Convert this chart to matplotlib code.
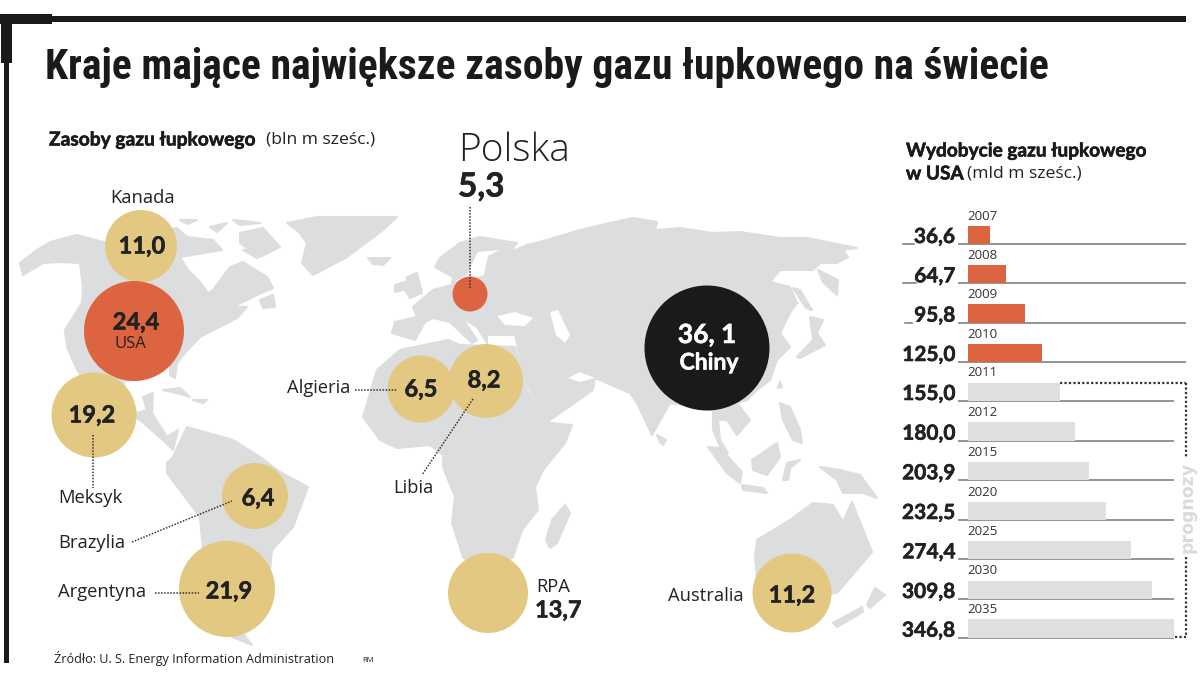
import matplotlib
matplotlib.use("Agg")
import matplotlib.pyplot as plt
import matplotlib.patheffects as pe
from matplotlib import font_manager
from matplotlib.patches import Circle, Polygon, Rectangle

# ================== dane ==================
countries = ["Kanada", "USA", "Meksyk", "Brazylia", "Argentyna", "Algieria", "Libia", "Polska", "Chiny", "RPA", "Australia"]
reserves = [11.0, 24.4, 19.2, 6.4, 21.9, 6.5, 8.2, 5.3, 36.1, 13.7, 11.2]

years = [2007, 2008, 2009, 2010, 2011, 2012, 2015, 2020, 2025, 2030, 2035]
production = [36.6, 64.7, 95.8, 125.0, 155.0, 180.0, 203.9, 232.5, 274.4, 309.8, 346.8]

# ================== uklad (piksele) ==================
circle_x = [141, 134, 94, 255, 227, 421, 486, 470, 707, 488, 792]
circle_y = [246, 331, 415, 496, 589, 389, 381, 294, 348, 593, 593]
circle_r = [36, 50, 42.5, 33, 48, 33.5, 37, 17.5, 62.5, 40, 39.5]
number_x = [142, 136, 92, 258, 229, 421, 484, None, None, None, 792]
number_y = [246, 322, 415, 498, 591, 389, 380, None, None, None, 595]
bar_base = [244, 283.3, 322.7, 362, 401, 440.7, 480.3, 520, 559.3, 599, 637.7]

LAND = "#dcddde"
GOLD = "#e3c882"
RED = "#dd6440"
BLACK = "#1a191c"
TEXT = "#222222"
BOLD = "Lato"
PLAIN = "Open Sans"

circle_color = [GOLD, RED, GOLD, GOLD, GOLD, GOLD, GOLD, RED, BLACK, GOLD, GOLD]

# ================== mapa ==================
land = [
    # Ameryka Polnocna
    [(20, 263), (37, 250), (50, 242), (77, 235), (107, 243), (177, 228), (187, 237), (213, 240), (222, 250),
     (180, 257), (188, 270), (200, 282), (208, 293), (213, 290), (230, 267), (243, 262), (267, 277), (273, 288),
     (257, 295), (233, 307), (247, 307), (237, 318), (200, 337), (185, 353), (177, 363), (175, 378), (170, 375),
     (170, 363), (150, 375), (123, 382), (130, 400), (137, 413), (147, 410), (143, 397), (153, 393), (152, 413),
     (167, 437), (178, 430), (173, 450), (163, 440), (140, 420), (100, 400), (77, 370), (67, 347), (65, 330),
     (82, 303), (83, 287), (80, 263), (60, 262), (43, 263), (23, 275)],
    # wyspy arktyczne
    [(180, 220), (197, 220), (187, 224)], [(233, 220), (260, 223), (240, 225)], [(210, 227), (227, 223), (217, 232)],
    [(240, 233), (263, 228), (280, 247), (260, 257), (240, 243)], [(243, 250), (267, 247), (257, 258)],
    [(260, 300), (273, 295), (275, 307), (263, 308)],
    [(163, 390), (180, 388), (190, 397), (177, 393)], [(193, 400), (207, 400), (203, 403)],
    # Grenlandia, Islandia, Wyspy Brytyjskie
    [(287, 223), (317, 217), (397, 217), (383, 230), (347, 257), (313, 275), (302, 263), (307, 243), (300, 233)],
    [(368, 258), (390, 258), (383, 265), (373, 264)],
    [(407, 277), (417, 273), (422, 293), (410, 298), (405, 290)],
    [(395, 285), (405, 282), (403, 290), (395, 292)],
    # Ameryka Poludniowa
    [(167, 463), (173, 457), (187, 427), (233, 440), (260, 457), (280, 472), (308, 487), (293, 527), (272, 550),
     (268, 590), (250, 620), (240, 630), (252, 645), (232, 637), (215, 600), (203, 550), (200, 517), (167, 473)],
    # Eurazja
    [(392, 333), (395, 322), (417, 317), (413, 307), (433, 290), (452, 285), (453, 277), (435, 267), (440, 258),
     (460, 243), (480, 237), (517, 243), (510, 252), (527, 245), (547, 240), (580, 230), (610, 223), (633, 218),
     (657, 222), (655, 230), (680, 228), (713, 233), (740, 232), (780, 238), (807, 238), (857, 248), (843, 250),
     (848, 257), (837, 263), (820, 263), (813, 270), (780, 270), (770, 282), (790, 287), (797, 303), (790, 313),
     (780, 333), (790, 347), (777, 360), (770, 380), (757, 390), (747, 400), (737, 403), (750, 420), (737, 435),
     (727, 420), (718, 420), (720, 440), (728, 453), (724, 456), (713, 430), (713, 410), (670, 403), (652, 435),
     (637, 403), (630, 393), (595, 378), (593, 390), (550, 420), (530, 390), (523, 380), (517, 343), (515, 335),
     (487, 335), (487, 343), (477, 327), (462, 318), (477, 340), (472, 343), (450, 322), (433, 318), (425, 322),
     (415, 340)],
    # Afryka
    [(363, 417), (377, 370), (400, 350), (448, 340), (460, 345), (515, 347), (523, 383), (527, 390), (550, 423),
     (572, 425), (565, 443), (543, 470), (535, 487), (538, 510), (522, 530), (513, 557), (487, 577), (463, 557),
     (452, 523), (455, 497), (443, 467), (443, 455), (430, 445), (397, 448), (380, 440)],
    [(565, 505), (570, 513), (557, 543), (550, 548), (546, 540), (552, 520)],
    # Azja - wyspy
    [(657, 435), (666, 440), (663, 445), (660, 442)],
    [(780, 382), (782, 387), (778, 388)],
    [(780, 403), (790, 407), (800, 430), (802, 443), (793, 440), (783, 420)],
    [(797, 357), (813, 340), (810, 317), (823, 320), (817, 333), (825, 345), (800, 358)],
    [(818, 270), (838, 280), (837, 295), (823, 282)],
    [(793, 288), (800, 290), (812, 310), (806, 308)],
    # Indonezja, Nowa Gwinea
    [(708, 447), (720, 448), (742, 472), (740, 483), (727, 473)],
    [(752, 460), (777, 443), (780, 457), (767, 475), (753, 470)],
    [(742, 485), (763, 488), (767, 493), (743, 490)],
    [(783, 480), (787, 463), (800, 460), (790, 468), (788, 480)],
    [(820, 467), (840, 470), (860, 475), (877, 498), (863, 493), (843, 493), (837, 480)],
    # Australia, Nowa Zelandia
    [(757, 540), (790, 520), (813, 503), (833, 505), (843, 522), (852, 502), (872, 552), (837, 593), (810, 597),
     (757, 580), (755, 557)],
    [(833, 623), (862, 607), (863, 612), (837, 627)],
    [(867, 605), (875, 588), (885, 595), (870, 608)],
]

# morza wewnetrzne (biale plamy na ladzie)
seas = [
    [(455, 281), (467, 275), (473, 262), (478, 252), (500, 250), (488, 256), (484, 275), (470, 280)],
    [(497, 316), (515, 312), (533, 318), (525, 326), (505, 325)],
    [(550, 312), (558, 310), (570, 335), (565, 343), (556, 335)],
    [(568, 378), (580, 372), (595, 378), (580, 382)],
]

fig = plt.figure(figsize=(12, 6.82), dpi=100)
ax = fig.add_axes([0, 0, 1, 1])
ax.set_xlim(0, 1200)
ax.set_ylim(682, 0)
ax.axis("off")

for shape in land:
    ax.add_patch(Polygon(shape, closed=True, fc=LAND, ec=LAND, lw=1.5, joinstyle="round", zorder=1))
for shape in seas:
    ax.add_patch(Polygon(shape, closed=True, fc="white", ec="none", zorder=1.1))

# ================== ramka ==================
ax.add_patch(Rectangle((0, 16), 1186, 6, fc=BLACK, ec="none", zorder=5))
ax.add_patch(Rectangle((0, 14), 52, 10, fc=BLACK, ec="none", zorder=5))
ax.add_patch(Rectangle((1, 14), 11, 49, fc=BLACK, ec="none", zorder=5))
ax.add_patch(Rectangle((4, 14), 5, 649, fc=BLACK, ec="none", zorder=5))

# ================== kola ==================
for x, y, r, c in zip(circle_x, circle_y, circle_r, circle_color):
    ax.add_patch(Circle((x, y), r, fc=c, ec="none", zorder=2))


def num(v):
    return f"{v:.1f}".replace(".", ",")


def dots(x0, y0, x1, y1, lw=1.1):
    ax.plot([x0, x1], [y0, y1], color="#333333", lw=lw, ls=(0, (1, 1)), zorder=3)


def label(x, y, s, size=13.2, ha="center", color=TEXT, family=PLAIN, weight="normal", va="center", heavy=False, **kw):
    t = ax.text(x, y, s, fontsize=size, ha=ha, va=va, color=color, family=family, weight=weight, zorder=4, **kw)
    if heavy:
        t.set_path_effects([pe.withStroke(linewidth=0.4, foreground=color)])
    return t


NUM = dict(size=17, family=BOLD, weight="bold", heavy=True)

# tytul: waski krój jesli jest, rozmiar dobrany do szerokosci
installed = {f.name for f in font_manager.fontManager.ttflist}
title_family = "Roboto"
for name in ["Roboto Condensed", "Liberation Sans Narrow", "Open Sans Condensed", "Noto Sans Condensed"]:
    if name in installed:
        title_family = name
        break
title = label(45, 67, "Kraje mające największe zasoby gazu łupkowego na świecie", size=28, ha="left",
              color=BLACK, family=title_family, weight="bold")
fig.canvas.draw()
title.set_fontsize(28 * 1002 / title.get_window_extent().width)

label(49, 140, "Zasoby gazu łupkowego", size=13.8, ha="left", family=BOLD, weight="bold", color=BLACK, heavy=True)
label(266, 140, "(bln m sześc.)", size=12.6, ha="left")

# etykiety krajow
for x, y, v in zip(number_x, number_y, reserves):
    if x is not None:
        label(x, y, num(v), **NUM)

label(143, 198, "Kanada")
label(130, 344, "USA", size=12)
label(90, 498, "Meksyk")
label(92, 543, "Brazylia")
label(102, 592, "Argentyna")
label(319, 388, "Algieria")
label(413, 488, "Libia")
label(458, 151, "Polska", size=28, ha="left", weight="light")
label(458, 187, num(reserves[7]), size=24, ha="left", family=BOLD, weight="bold", heavy=True)
label(707, 335, "36, 1", size=19, color="white", family=BOLD, weight="bold", heavy=True)
label(709, 363, "Chiny", size=16.5, color="white", family=BOLD, weight="bold", heavy=True)
label(536, 587, "RPA", ha="left")
label(535, 610, num(reserves[9]), size=17, ha="left", family=BOLD, weight="bold", heavy=True)
label(706, 596, "Australia")

dots(93, 435, 93, 488)
dots(132, 542, 232, 501)
dots(155, 592.5, 199, 592.5)
dots(355, 390, 397, 390)
dots(473, 399, 422, 475)
dots(470, 207, 470, 288)

label(54, 659, "Źródło: U. S. Energy Information Administration", size=9.1, ha="left")
label(362, 660, "RM", size=5.5, ha="left")

# ================== wydobycie ==================
label(906, 151, "Wydobycie gazu łupkowego", size=13.7, ha="left", family=BOLD, weight="bold", color=BLACK, heavy=True)
label(906, 174, "w USA", size=13.7, ha="left", family=BOLD, weight="bold", color=BLACK, heavy=True)
label(967, 174, "(mld m sześc.)", size=12.6, ha="left")

ax_b = fig.add_axes([968 / 1200, 0, 206 / 1200, 1])
ax_b.set_xlim(0, max(production))
ax_b.set_ylim(682, 0)
ax_b.axis("off")
ax_b.patch.set_alpha(0)
colors = [RED if y <= 2010 else "#dedfe0" for y in years]
ax_b.barh([b - 9.25 for b in bar_base], production, height=18.5, color=colors, zorder=2)

for i, (yr, v, b) in enumerate(zip(years, production, bar_base)):
    end = 1186 if yr <= 2010 else 1174
    ax.plot([958, end], [b, b], color="#777777", lw=1.1, zorder=3, solid_capstyle="butt")
    label(967, b - 28, str(yr), size=9.5, ha="left", color="#333333")
    label(955.5, b - 1, num(v), size=15, ha="right", family=BOLD, weight="bold", va="baseline", heavy=True)
for b, x0, x1 in zip(bar_base[:3], [903, 903, 905], [914, 916, 912]):
    ax.plot([x0, x1], [b, b], color="#777777", lw=1.1, zorder=3)

dots(1060, 383, 1186, 383, lw=1.6)
dots(1186, 383, 1186, 458, lw=1.6)
dots(1186, 557, 1186, 637, lw=1.6)
dots(1175, 637, 1186, 637, lw=1.6)
label(1187, 507, "prognozy", size=12.5, color="#d9dadb", family="DejaVu Sans", weight="bold", rotation=90)

fig.savefig("out.png", dpi=100)
